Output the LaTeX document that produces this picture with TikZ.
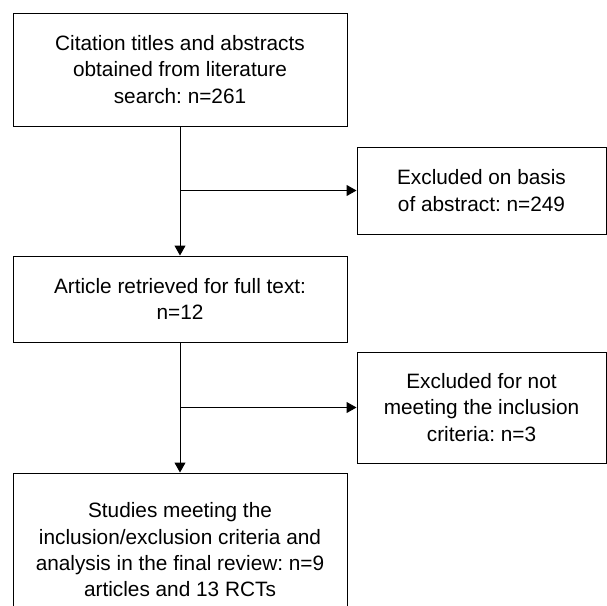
\documentclass[tikz,border=0pt]{standalone}
\usepackage{fontspec}
\setmainfont{Liberation Sans}
\frenchspacing
\usetikzlibrary{arrows.meta}
\tikzset{
  stagebox/.style={draw, line width=1pt, inner sep=0pt, align=center,
    font=\fontsize{20.8}{26.3}\selectfont},
  flowarrow/.style={line width=1pt, -{Triangle[length=10pt,width=11pt]}}
}
\begin{document}
\begin{tikzpicture}[x=1pt,y=-1pt]
        \useasboundingbox (0,0) rectangle (607,605);
        \clip (0,0) rectangle (607,605);
        \node[stagebox, minimum width=334pt, minimum height=113pt] (search) at (180,69.5)
            {Citation titles and abstracts\\obtained from literature\\search: n=261};
        \node[stagebox, minimum width=249pt, minimum height=87pt] (exclabs) at (481.5,190.5)
            {Excluded on basis\\of abstract: n=249};
        \node[stagebox, minimum width=334pt, minimum height=86pt] (fulltext) at (180,299)
            {Article retrieved for full text:\\n=12};
        \node[stagebox, minimum width=249pt, minimum height=111pt] (exclcrit) at (481.5,407.5)
            {Excluded for not\\meeting the inclusion\\criteria: n=3};
        \node[stagebox, minimum width=334pt, minimum height=154pt] (final) at (180,550)
            {Studies meeting the\\inclusion/exclusion criteria and\\analysis in the final review: n=9\\articles and 13 RCTs};
        \draw[flowarrow] (search.south) -- (fulltext.north);
        \draw[flowarrow] (search.south |- exclabs.west) -- (exclabs.west);
        \draw[flowarrow] (fulltext.south) -- (final.north);
        \draw[flowarrow] (fulltext.south |- exclcrit.west) -- (exclcrit.west);
    \end{tikzpicture}
\end{document}
